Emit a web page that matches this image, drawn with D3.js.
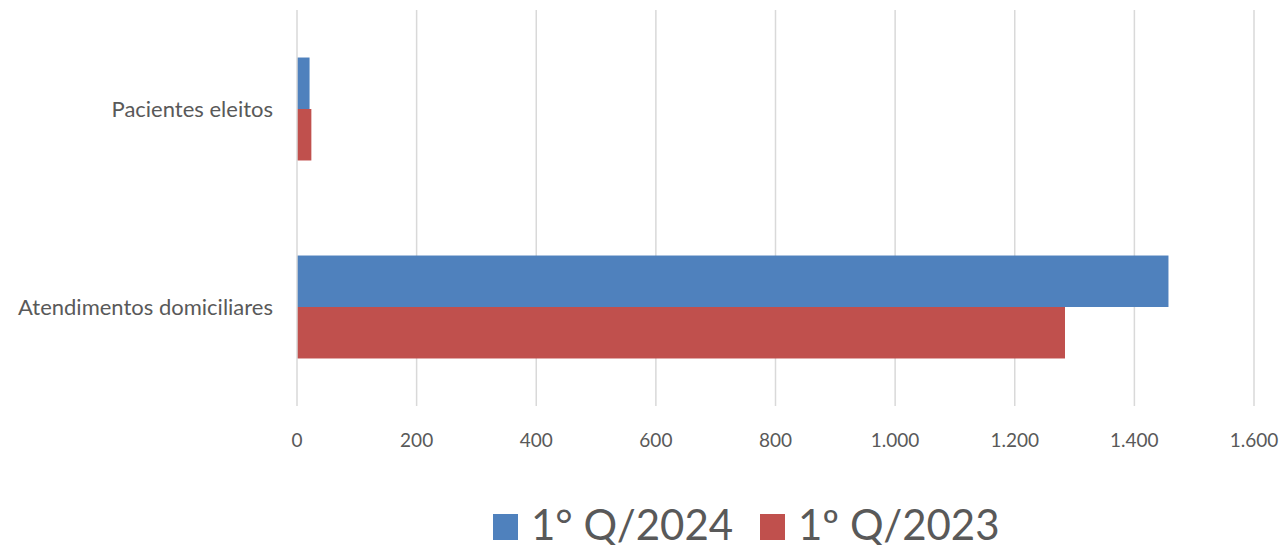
<!DOCTYPE html>
<html>
<head>
<meta charset="utf-8">
<script src="https://cdn.jsdelivr.net/npm/d3@7"></script>
<style>
body { margin: 0; background: #fff; }
svg text { font-family: Lato, "Open Sans", sans-serif; fill: #595959; }
</style>
</head>
<body>
<div id="viz"></div>
<script>
var categories = ["Pacientes eleitos", "Atendimentos domiciliares"];
var seriesNames = ["1° Q/2024", "1º Q/2023"];
var values2024 = [21, 1457];
var values2023 = [24, 1284];
var tickValues = [0, 200, 400, 600, 800, 1000, 1200, 1400, 1600];
var colors = ["#4F81BD", "#C0504D"];

var width = 1284, height = 545;
var plotLeft = 297, plotRight = 1254, plotTop = 10, plotBottom = 406;

var svg = d3.select("#viz").append("svg")
	.attr("width", width)
	.attr("height", height);

var x = d3.scaleLinear().domain([0, 1600]).range([plotLeft, plotRight]);
var y = d3.scaleBand().domain(categories).range([plotTop, plotBottom]).paddingInner(0.48).paddingOuter(0.24);
var sub = d3.scaleBand().domain([0, 1]).range([0, y.bandwidth()]);

// gridlines
svg.selectAll("line.grid")
	.data(tickValues.slice(1))
	.enter().append("line")
	.attr("x1", function(d){ return x(d); })
	.attr("x2", function(d){ return x(d); })
	.attr("y1", plotTop)
	.attr("y2", plotBottom)
	.attr("stroke", "#d9d9d9")
	.attr("stroke-width", 1.5);

var fmt = function(d){ return d3.format(",")(d).replace(/,/g, "."); };

var rows = categories.map(function(c, i){ return [values2024[i], values2023[i]]; });

categories.forEach(function(c, i){
	rows[i].forEach(function(v, s){
		svg.append("rect")
			.attr("x", x(0))
			.attr("y", y(c) + sub(s))
			.attr("width", x(v) - x(0))
			.attr("height", sub.bandwidth())
			.attr("fill", colors[s]);
	});
});

// vertical axis line
svg.append("line")
	.attr("x1", x(0)).attr("x2", x(0))
	.attr("y1", plotTop).attr("y2", plotBottom)
	.attr("stroke", "#d9d9d9")
	.attr("stroke-width", 1.5);

// tick labels
svg.selectAll("text.tick")
	.data(tickValues)
	.enter().append("text")
	.attr("x", function(d){ return x(d); })
	.attr("y", 447)
	.attr("text-anchor", "middle")
	.style("font-size", "19px")
	.text(fmt);

// category labels
svg.selectAll("text.cat")
	.data(categories)
	.enter().append("text")
	.attr("x", 273)
	.attr("y", function(d){ return y(d) + y.bandwidth()/2 + 8; })
	.attr("text-anchor", "end")
	.style("font-size", "22px")
	.text(function(d){ return d; });

// legend
var legendX = [493, 760];
seriesNames.forEach(function(n, s){
	svg.append("rect")
		.attr("x", legendX[s]).attr("y", 514)
		.attr("width", 25).attr("height", 26)
		.attr("fill", colors[s]);
	svg.append("text")
		.attr("x", legendX[s] + 38)
		.attr("y", 540)
		.style("font-size", "42px")
		.text(n);
});
</script>
</body>
</html>
